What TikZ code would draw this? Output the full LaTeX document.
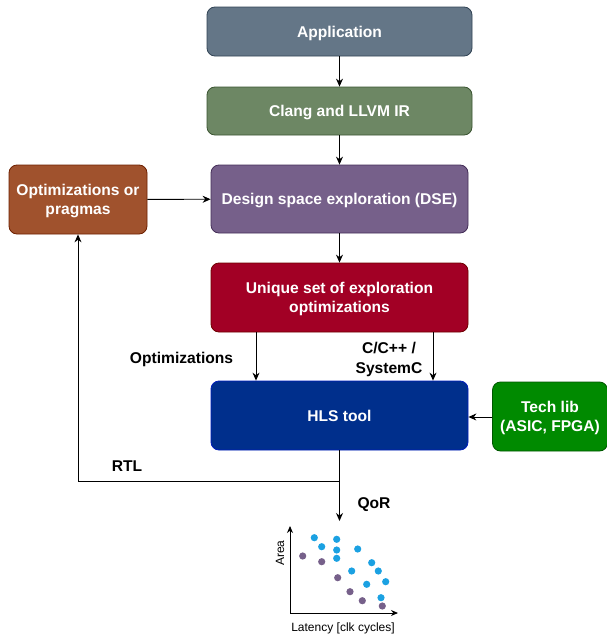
\documentclass[tikz,border=0pt]{standalone}
\usepackage{fontspec}
\setmainfont{Liberation Sans}
\usetikzlibrary{arrows.meta}
\definecolor{slateF}{HTML}{647687}\definecolor{slateD}{HTML}{314354}
\definecolor{oliveF}{HTML}{6D8764}\definecolor{oliveD}{HTML}{3A5431}
\definecolor{violetF}{HTML}{76608A}\definecolor{violetD}{HTML}{432D57}
\definecolor{crimsonF}{HTML}{A20025}\definecolor{crimsonD}{HTML}{6F0000}
\definecolor{cobaltF}{HTML}{002F8C}\definecolor{cobaltD}{HTML}{001DBC}
\definecolor{siennaF}{HTML}{A0522D}\definecolor{siennaD}{HTML}{6D1F00}
\definecolor{greenF}{HTML}{008A00}\definecolor{greenD}{HTML}{005700}
\definecolor{dotblue}{HTML}{1BA1E2}\definecolor{dotpurple}{HTML}{76608A}
\tikzset{
  block/.style={draw, rounded corners=8pt, text=white, align=center,
    font=\fontsize{15.6}{19.5}\selectfont\bfseries, inner sep=0pt, line width=0.8pt,
    text depth=0pt},
  flow/.style={-{Stealth[length=8pt,width=7pt]}, line width=0.9pt},
  elabel/.style={font=\fontsize{15.6}{19.5}\selectfont\bfseries, align=center, inner sep=0pt,
    text depth=0pt},
  axislabel/.style={font=\fontsize{12}{14}\selectfont, inner sep=0pt},
  bdot/.style={fill=dotblue, draw=none},
  pdot/.style={fill=dotpurple, draw=none}
}
\begin{document}
\begin{tikzpicture}[x=1pt,y=-1pt]
\useasboundingbox (0,0) rectangle (607,637);

% main flow boxes
\node[block, fill=slateF, draw=slateD, minimum width=265pt, minimum height=49pt] (app) at (339.5,31.5) {Application};
\node[block, fill=oliveF, draw=oliveD, minimum width=265pt, minimum height=48pt] (clang) at (339.5,111) {Clang and LLVM IR};
\node[block, fill=violetF, draw=violetD, minimum width=257pt, minimum height=68pt] (dse) at (339.5,199) {Design space exploration (DSE)};
\node[block, fill=crimsonF, draw=crimsonD, minimum width=257pt, minimum height=69pt] (uniq) at (339.5,297.5) {Unique set of exploration\\optimizations};
\node[block, fill=cobaltF, draw=cobaltD, minimum width=257pt, minimum height=69pt] (hls) at (339.5,415.5) {HLS tool};
\node[block, fill=siennaF, draw=siennaD, minimum width=138pt, minimum height=69pt] (opt) at (78,199.5) {Optimizations or\\pragmas};
\node[block, fill=greenF, draw=greenD, minimum width=115pt, minimum height=69pt] (tech) at (550,416.5) {Tech lib\\(ASIC, FPGA)};

% connectors
\draw[flow] (app) -- (clang);
\draw[flow] (clang) -- (dse);
\draw[flow] (dse) -- (uniq);
\draw[flow] (opt) -- (dse);
\draw[flow] (uniq.south -| 256,0) -- (hls.north -| 256,0);
\draw[flow] (uniq.south -| 433,0) -- (hls.north -| 433,0);
\draw[flow] (tech.west |- 0,417) -- (hls.east |- 0,417);
\coordinate (qor) at (339.5,521);
\coordinate (split) at (339.5,481);
\draw[flow] (hls) -- (qor);
\draw[flow] (split) -| (opt.south);

% connector labels
\node[elabel] (lopt) at (181.5,357.5) {Optimizations};
\node[elabel] (lc) at (389,358) {C/C++ /\\SystemC};
\node[elabel] (lrtl) at (127,466) {RTL};
\node[elabel] (lqor) at (374,503) {QoR};

% latency/area plot
\coordinate (origin) at (290,613);
\coordinate (ytop) at (290,526);
\coordinate (xend) at (398,613);
\draw[-{Stealth[length=7pt,width=6pt]}, line width=0.9pt] (origin) -- (ytop);
\draw[-{Stealth[length=7pt,width=6pt]}, line width=0.9pt] (origin) -- (xend);
\node[axislabel, rotate=90] (ylab) at (280,553) {Area};
\node[axislabel] (xlab) at (343,628) {Latency [clk cycles]};
\foreach \p in {(314.3,537.7),(336.7,539.3),(321.7,546.7),(336.7,550),(357.7,549),(336.7,558.3),(371.7,562.7),(351.7,571),(378.3,571),(385.7,581.7),(366.7,584.3),(381,597.7)}
  \fill[bdot] \p circle (3.6pt);
\foreach \p in {(302.7,556),(321.7,561.7),(337.7,577.7),(350,591.7),(362.3,600.7),(382.3,606)}
  \fill[pdot] \p circle (3.6pt);
\end{tikzpicture}
\end{document}
